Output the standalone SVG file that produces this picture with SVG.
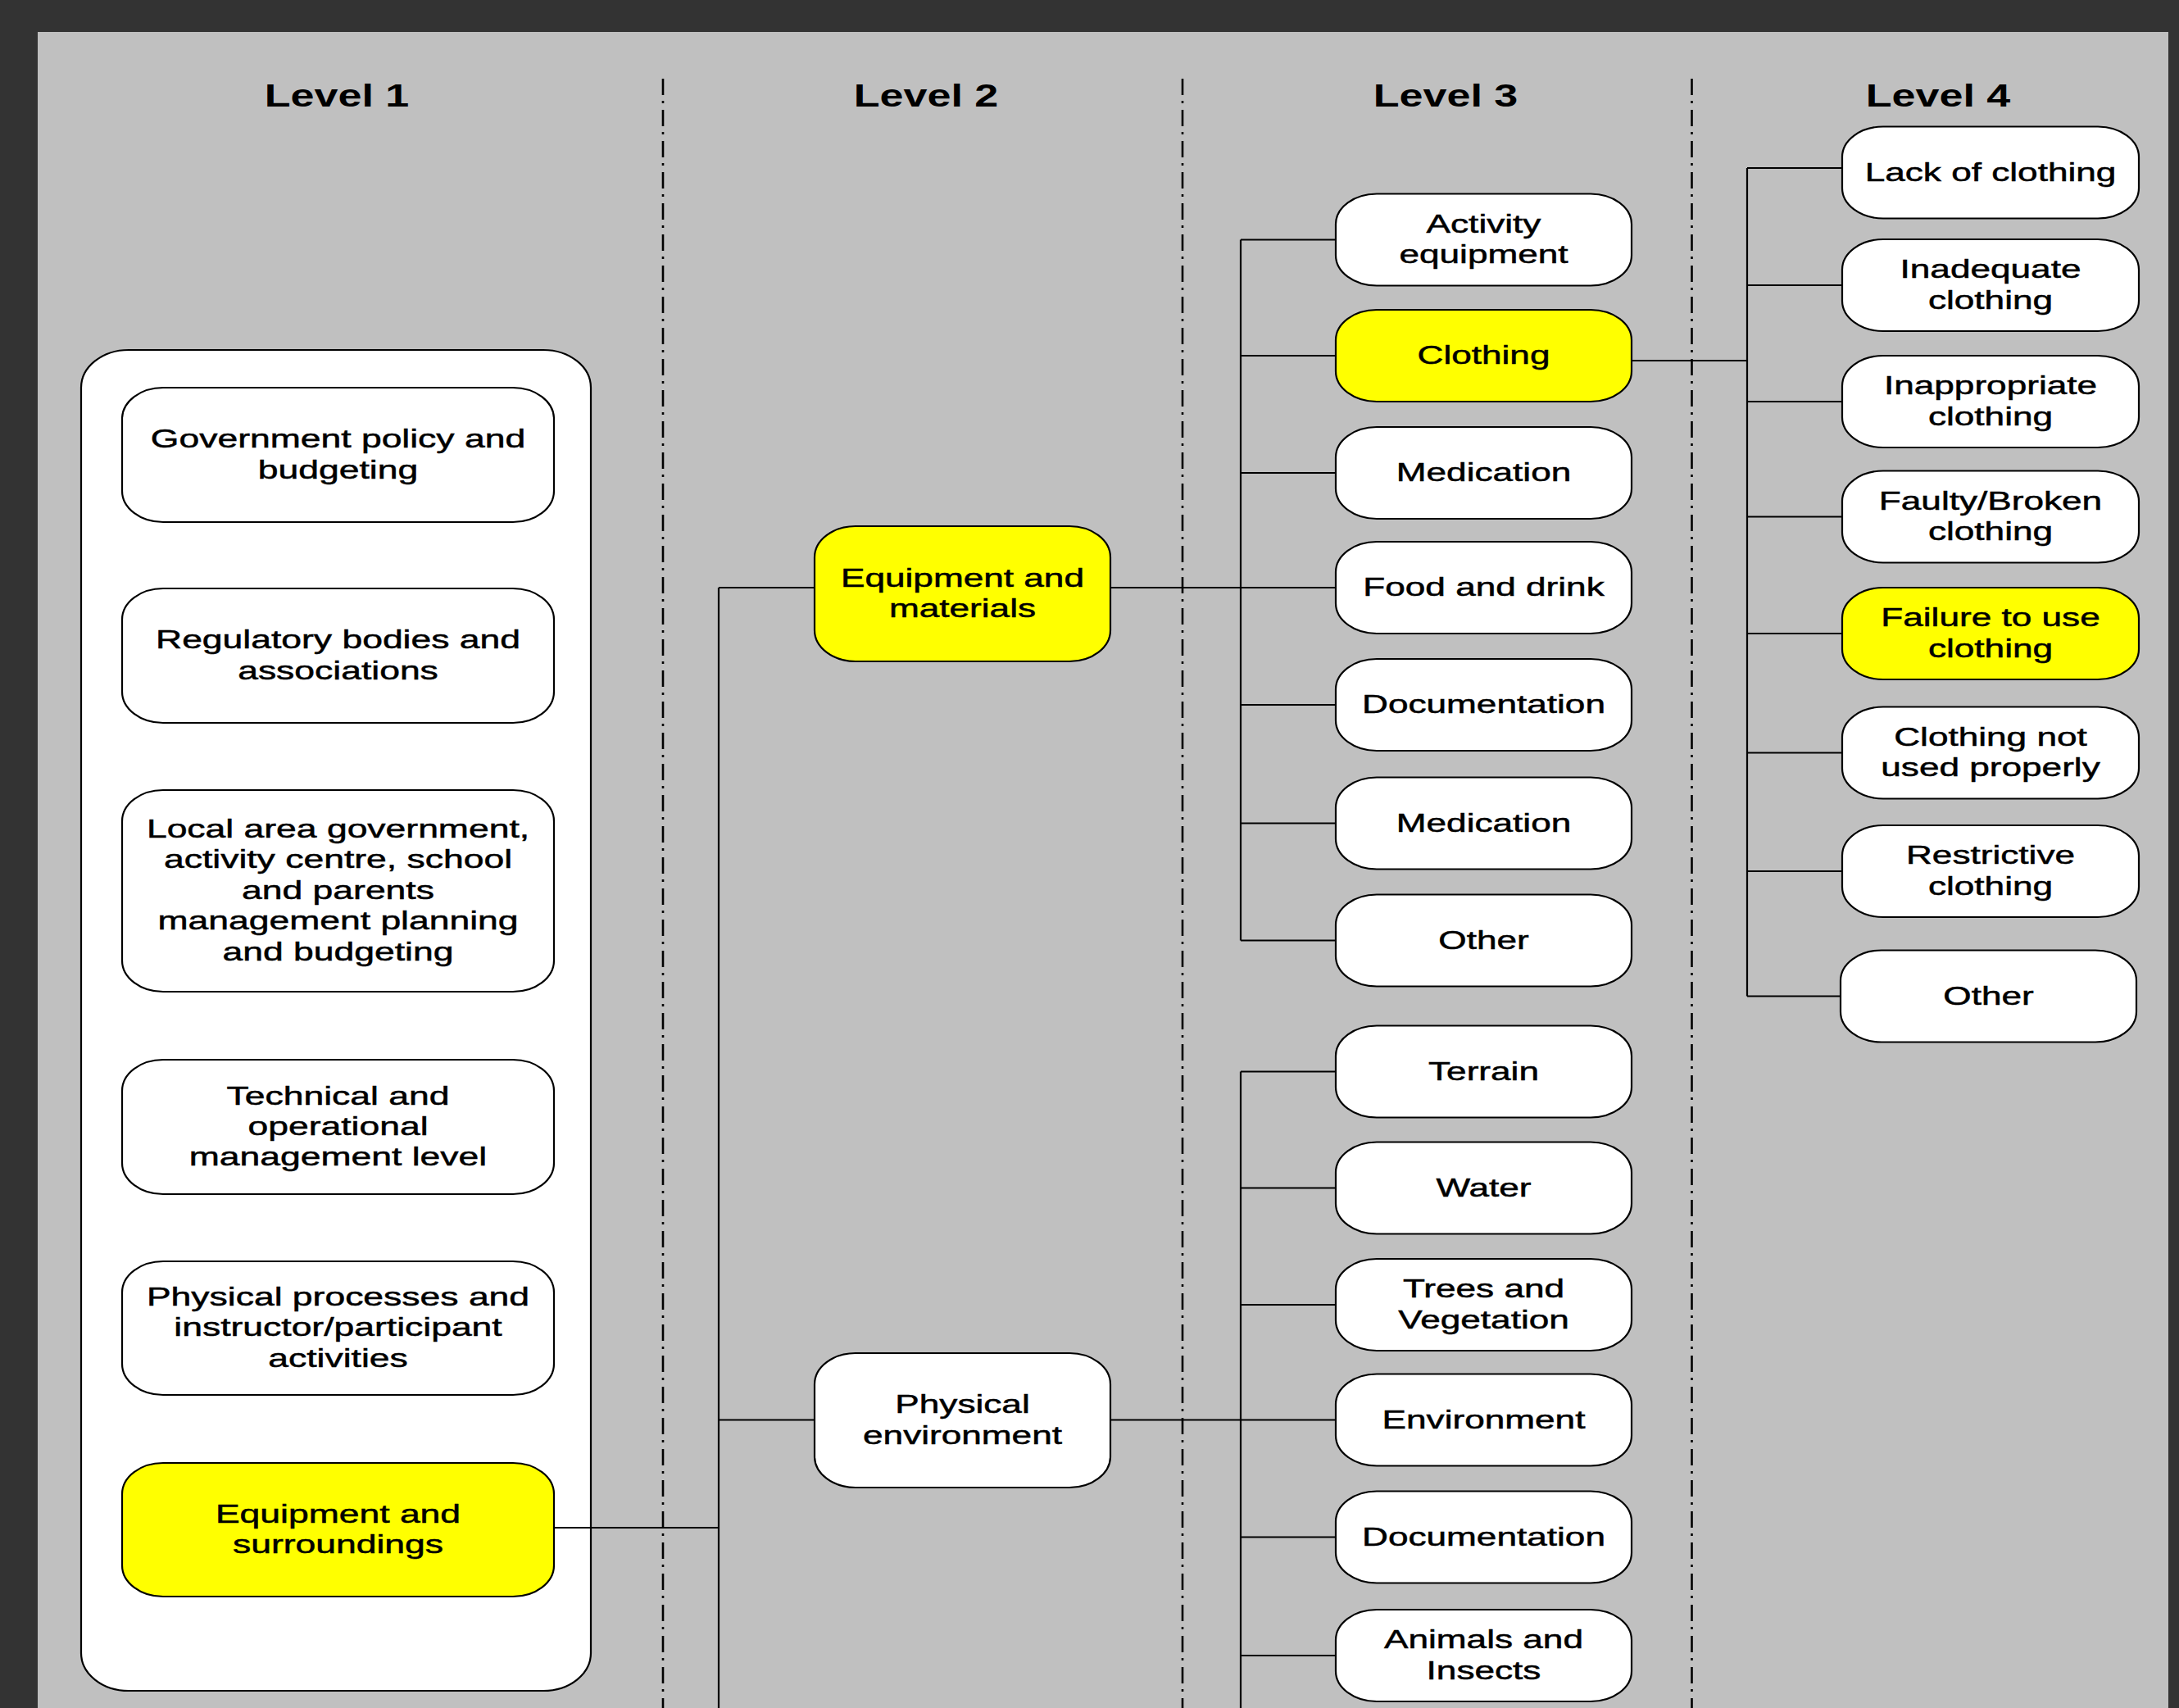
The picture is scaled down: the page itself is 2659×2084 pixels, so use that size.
<svg xmlns="http://www.w3.org/2000/svg" width="2659" height="2084" viewBox="0 0 2659 2084">
<style>
.bg{fill:#333333}
.panel{fill:#c0c0c0}
.box{fill:#ffffff;stroke:#000;stroke-width:2.2}
.hl{fill:#ffff00;stroke:#000;stroke-width:2.2}
.sep{stroke:#000;stroke-width:2.6;stroke-dasharray:20 7 3 8;fill:none}
.con line{stroke:#000;stroke-width:2.2}
.t{font-family:"Liberation Sans",Arial,sans-serif;font-size:32px;text-anchor:middle;fill:#000;stroke:#000;stroke-width:0.5}
.h{font-family:"Liberation Sans",Arial,sans-serif;font-size:38px;font-weight:bold;text-anchor:middle;fill:#000}
</style>
<rect class="bg" x="0" y="0" width="2659" height="2084"/>
<rect class="panel" x="46" y="39" width="2600" height="2045"/>
<g id="separators">
<line class="sep" x1="809" y1="96" x2="809" y2="2084"/>
<line class="sep" x1="1443" y1="96" x2="1443" y2="2084"/>
<line class="sep" x1="2064.5" y1="96" x2="2064.5" y2="2084"/>
</g>
<g id="titles">
<text class="h" transform="translate(411,129.5) scale(1.37,1)">Level 1</text>
<text class="h" transform="translate(1130,129.5) scale(1.37,1)">Level 2</text>
<text class="h" transform="translate(1764,129.5) scale(1.37,1)">Level 3</text>
<text class="h" transform="translate(2365,129.5) scale(1.37,1)">Level 4</text>
</g>
<g id="level1-container"><rect class="box" x="99" y="427" width="622" height="1636" rx="58" ry="46"/></g>
<g id="connectors" class="con">
<line x1="676" y1="1864" x2="877" y2="1864"/>
<line x1="877" y1="717" x2="877" y2="2084"/>
<line x1="877" y1="717" x2="994" y2="717"/>
<line x1="877" y1="1732.5" x2="994" y2="1732.5"/>
<line x1="1355" y1="717" x2="1630" y2="717"/>
<line x1="1514" y1="292.5" x2="1514" y2="1147.5"/>
<line x1="1514" y1="292.5" x2="1630" y2="292.5"/>
<line x1="1514" y1="434" x2="1630" y2="434"/>
<line x1="1514" y1="577" x2="1630" y2="577"/>
<line x1="1514" y1="860" x2="1630" y2="860"/>
<line x1="1514" y1="1004.5" x2="1630" y2="1004.5"/>
<line x1="1514" y1="1147.5" x2="1630" y2="1147.5"/>
<line x1="1355" y1="1732.5" x2="1630" y2="1732.5"/>
<line x1="1514" y1="1307.5" x2="1514" y2="2084"/>
<line x1="1514" y1="1307.5" x2="1630" y2="1307.5"/>
<line x1="1514" y1="1449.5" x2="1630" y2="1449.5"/>
<line x1="1514" y1="1592" x2="1630" y2="1592"/>
<line x1="1514" y1="1875.5" x2="1630" y2="1875.5"/>
<line x1="1514" y1="2020" x2="1630" y2="2020"/>
<line x1="1991" y1="440" x2="2132" y2="440"/>
<line x1="2132" y1="205" x2="2132" y2="1215.5"/>
<line x1="2132" y1="205" x2="2248" y2="205"/>
<line x1="2132" y1="348" x2="2248" y2="348"/>
<line x1="2132" y1="490" x2="2248" y2="490"/>
<line x1="2132" y1="630.5" x2="2248" y2="630.5"/>
<line x1="2132" y1="773" x2="2248" y2="773"/>
<line x1="2132" y1="918.5" x2="2248" y2="918.5"/>
<line x1="2132" y1="1063" x2="2248" y2="1063"/>
<line x1="2132" y1="1215.5" x2="2246" y2="1215.5"/>
</g>
<!-- Level 1 -->
<g id="n-gov"><rect class="box" x="149" y="473" width="527" height="164" rx="50" ry="38"/>
<text class="t" transform="translate(412.5,546.25) scale(1.39,1)"><tspan x="0" y="0">Government policy and</tspan><tspan x="0" y="37.5">budgeting</tspan></text></g>
<g id="n-reg"><rect class="box" x="149" y="718" width="527" height="164" rx="50" ry="38"/>
<text class="t" transform="translate(412.5,791.25) scale(1.39,1)"><tspan x="0" y="0">Regulatory bodies and</tspan><tspan x="0" y="37.5">associations</tspan></text></g>
<g id="n-local"><rect class="box" x="149" y="964" width="527" height="246" rx="50" ry="38"/>
<text class="t" transform="translate(412.5,1022) scale(1.39,1)"><tspan x="0" y="0">Local area government,</tspan><tspan x="0" y="37.5">activity centre, school</tspan><tspan x="0" y="75">and parents</tspan><tspan x="0" y="112.5">management planning</tspan><tspan x="0" y="150">and budgeting</tspan></text></g>
<g id="n-tech"><rect class="box" x="149" y="1293" width="527" height="164" rx="50" ry="38"/>
<text class="t" transform="translate(412.5,1347.5) scale(1.39,1)"><tspan x="0" y="0">Technical and</tspan><tspan x="0" y="37.5">operational</tspan><tspan x="0" y="75">management level</tspan></text></g>
<g id="n-phys"><rect class="box" x="149" y="1539" width="527" height="163" rx="50" ry="38"/>
<text class="t" transform="translate(412.5,1593) scale(1.39,1)"><tspan x="0" y="0">Physical processes and</tspan><tspan x="0" y="37.5">instructor/participant</tspan><tspan x="0" y="75">activities</tspan></text></g>
<g id="n-eqsur"><rect class="hl" x="149" y="1785" width="527" height="163" rx="50" ry="38"/>
<text class="t" transform="translate(412.5,1857.75) scale(1.39,1)"><tspan x="0" y="0">Equipment and</tspan><tspan x="0" y="37.5">surroundings</tspan></text></g>
<!-- Level 2 -->
<g id="n-eqmat"><rect class="hl" x="994" y="642" width="361" height="165" rx="50" ry="38"/>
<text class="t" transform="translate(1174.5,715.75) scale(1.38,1)"><tspan x="0" y="0">Equipment and</tspan><tspan x="0" y="37.5">materials</tspan></text></g>
<g id="n-physenv"><rect class="box" x="994" y="1651" width="361" height="164" rx="50" ry="38"/>
<text class="t" transform="translate(1174.5,1724.25) scale(1.38,1)"><tspan x="0" y="0">Physical</tspan><tspan x="0" y="37.5">environment</tspan></text></g>
<!-- Level 3 -->
<g id="n-act"><rect class="box" x="1630" y="236.5" width="361" height="112" rx="50" ry="37"/>
<text class="t" transform="translate(1810.5,283.75) scale(1.38,1)"><tspan x="0" y="0">Activity</tspan><tspan x="0" y="37.5">equipment</tspan></text></g>
<g id="n-cloth"><rect class="hl" x="1630" y="378" width="361" height="112" rx="50" ry="37"/>
<text class="t" transform="translate(1810.5,444) scale(1.38,1)">Clothing</text></g>
<g id="n-med1"><rect class="box" x="1630" y="521" width="361" height="112" rx="50" ry="37"/>
<text class="t" transform="translate(1810.5,587) scale(1.38,1)">Medication</text></g>
<g id="n-food"><rect class="box" x="1630" y="661" width="361" height="112" rx="50" ry="37"/>
<text class="t" transform="translate(1810.5,727) scale(1.38,1)">Food and drink</text></g>
<g id="n-doc1"><rect class="box" x="1630" y="804" width="361" height="112" rx="50" ry="37"/>
<text class="t" transform="translate(1810.5,870) scale(1.38,1)">Documentation</text></g>
<g id="n-med2"><rect class="box" x="1630" y="948.5" width="361" height="112" rx="50" ry="37"/>
<text class="t" transform="translate(1810.5,1014.5) scale(1.38,1)">Medication</text></g>
<g id="n-other3"><rect class="box" x="1630" y="1091.5" width="361" height="112" rx="50" ry="37"/>
<text class="t" transform="translate(1810.5,1157.5) scale(1.38,1)">Other</text></g>
<g id="n-terrain"><rect class="box" x="1630" y="1251.5" width="361" height="112" rx="50" ry="37"/>
<text class="t" transform="translate(1810.5,1317.5) scale(1.38,1)">Terrain</text></g>
<g id="n-water"><rect class="box" x="1630" y="1393.5" width="361" height="112" rx="50" ry="37"/>
<text class="t" transform="translate(1810.5,1459.5) scale(1.38,1)">Water</text></g>
<g id="n-trees"><rect class="box" x="1630" y="1536" width="361" height="112" rx="50" ry="37"/>
<text class="t" transform="translate(1810.5,1583.25) scale(1.38,1)"><tspan x="0" y="0">Trees and</tspan><tspan x="0" y="37.5">Vegetation</tspan></text></g>
<g id="n-envir"><rect class="box" x="1630" y="1676.5" width="361" height="112" rx="50" ry="37"/>
<text class="t" transform="translate(1810.5,1742.5) scale(1.38,1)">Environment</text></g>
<g id="n-doc2"><rect class="box" x="1630" y="1819.5" width="361" height="112" rx="50" ry="37"/>
<text class="t" transform="translate(1810.5,1885.5) scale(1.38,1)">Documentation</text></g>
<g id="n-animals"><rect class="box" x="1630" y="1964" width="361" height="112" rx="50" ry="37"/>
<text class="t" transform="translate(1810.5,2011.25) scale(1.38,1)"><tspan x="0" y="0">Animals and</tspan><tspan x="0" y="37.5">Insects</tspan></text></g>
<!-- Level 4 -->
<g id="n-lack"><rect class="box" x="2248" y="154.5" width="362" height="112" rx="50" ry="37"/>
<text class="t" transform="translate(2429,220.5) scale(1.38,1)">Lack of clothing</text></g>
<g id="n-inadeq"><rect class="box" x="2248" y="292" width="362" height="112" rx="50" ry="37"/>
<text class="t" transform="translate(2429,339.25) scale(1.38,1)"><tspan x="0" y="0">Inadequate</tspan><tspan x="0" y="37.5">clothing</tspan></text></g>
<g id="n-inappr"><rect class="box" x="2248" y="434" width="362" height="112" rx="50" ry="37"/>
<text class="t" transform="translate(2429,481.25) scale(1.38,1)"><tspan x="0" y="0">Inappropriate</tspan><tspan x="0" y="37.5">clothing</tspan></text></g>
<g id="n-faulty"><rect class="box" x="2248" y="574.5" width="362" height="112" rx="50" ry="37"/>
<text class="t" transform="translate(2429,621.75) scale(1.38,1)"><tspan x="0" y="0">Faulty/Broken</tspan><tspan x="0" y="37.5">clothing</tspan></text></g>
<g id="n-failure"><rect class="hl" x="2248" y="717" width="362" height="112" rx="50" ry="37"/>
<text class="t" transform="translate(2429,764.25) scale(1.38,1)"><tspan x="0" y="0">Failure to use</tspan><tspan x="0" y="37.5">clothing</tspan></text></g>
<g id="n-notused"><rect class="box" x="2248" y="862.5" width="362" height="112" rx="50" ry="37"/>
<text class="t" transform="translate(2429,909.75) scale(1.38,1)"><tspan x="0" y="0">Clothing not</tspan><tspan x="0" y="37.5">used properly</tspan></text></g>
<g id="n-restr"><rect class="box" x="2248" y="1007" width="362" height="112" rx="50" ry="37"/>
<text class="t" transform="translate(2429,1054.25) scale(1.38,1)"><tspan x="0" y="0">Restrictive</tspan><tspan x="0" y="37.5">clothing</tspan></text></g>
<g id="n-other4"><rect class="box" x="2246" y="1159.5" width="361" height="112" rx="50" ry="37"/>
<text class="t" transform="translate(2426.5,1225.5) scale(1.38,1)">Other</text></g>
</svg>
